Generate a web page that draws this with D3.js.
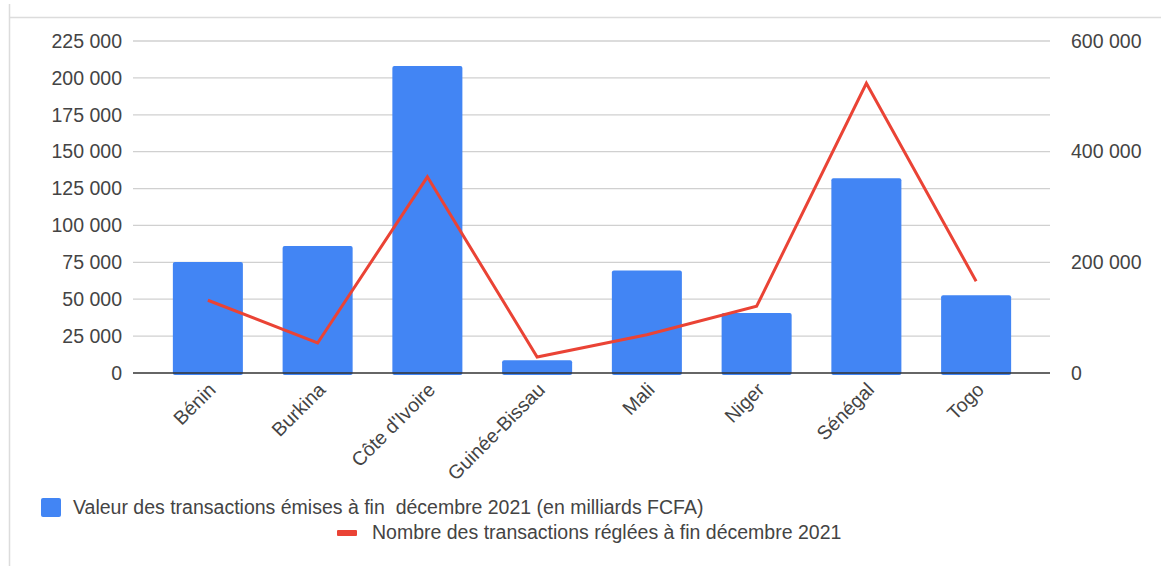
<!DOCTYPE html>
<html>
<head>
<meta charset="utf-8">
<script src="https://cdn.jsdelivr.net/npm/d3@7"></script>
<style>
  html, body { margin: 0; padding: 0; background: #fff; }
  svg { display: block; font-family: "Liberation Sans", Arial, sans-serif; }
</style>
</head>
<body>
<svg id="chart" width="1161" height="566"></svg>
<script>
// Pays de l'UEMOA
const categories = ["Bénin", "Burkina", "Côte d'Ivoire", "Guinée-Bissau", "Mali", "Niger", "Sénégal", "Togo"];
// Valeur des transactions émises (milliards FCFA) — axe gauche
const valeurs = [75300, 86000, 208000, 8600, 69500, 40700, 132000, 52700];
// Nombre des transactions réglées — axe droit
const nombres = [131500, 54300, 354500, 28900, 69000, 120600, 523500, 165900];
const leftTicks = [0, 25000, 50000, 75000, 100000, 125000, 150000, 175000, 200000, 225000];
const rightTicks = [0, 200000, 400000, 600000];
const legendLabels = [
  "Valeur des transactions émises à fin  décembre 2021 (en milliards FCFA)",
  "Nombre des transactions réglées à fin décembre 2021"
];

const FS = 19.5;
const svg = d3.select("#chart");
const plot = { left: 133, right: 1050, top: 41, bottom: 373 };
const fmt = v => d3.format(",")(v).replace(/,/g, " ");

// cadre
svg.append("line").attr("x1", 9.5).attr("x2", 9.5).attr("y1", 4).attr("y2", 566)
  .attr("stroke", "#dcdcdc").attr("stroke-width", 1.5);
svg.append("line").attr("x1", 9).attr("x2", 1161).attr("y1", 17.5).attr("y2", 17.5)
  .attr("stroke", "#dcdcdc").attr("stroke-width", 1.5);

const x = d3.scaleBand().domain(categories).range([153, 1031]).paddingInner(0.362).paddingOuter(0.181);
const yL = d3.scaleLinear().domain([0, 225000]).range([plot.bottom, plot.top]);
const yR = d3.scaleLinear().domain([0, 600000]).range([plot.bottom, plot.top]);

// grille
svg.append("g").selectAll("line").data(leftTicks.slice(1)).join("line")
  .attr("x1", plot.left).attr("x2", plot.right)
  .attr("y1", d => yL(d)).attr("y2", d => yL(d))
  .attr("stroke", "#d0d0d0").attr("stroke-width", 1.3);

// axe gauche
const axL = svg.append("g").attr("transform", `translate(${plot.left},0)`)
  .call(d3.axisLeft(yL).tickValues(leftTicks).tickFormat(fmt).tickSize(0).tickPadding(11));
axL.select(".domain").remove();
axL.selectAll("text").attr("font-size", FS).attr("fill", "#444").attr("font-family", "Liberation Sans, Arial");

// axe droit
const axR = svg.append("g").attr("transform", `translate(${plot.right},0)`)
  .call(d3.axisRight(yR).tickValues(rightTicks).tickFormat(fmt).tickSize(0).tickPadding(21));
axR.select(".domain").remove();
axR.selectAll("text").attr("font-size", FS).attr("fill", "#444").attr("font-family", "Liberation Sans, Arial");

// barres
svg.append("g").selectAll("rect").data(valeurs).join("rect")
  .attr("x", (d, i) => x(categories[i]))
  .attr("width", x.bandwidth())
  .attr("y", d => yL(d))
  .attr("height", d => yL(0) - yL(d) + 2)
  .attr("rx", 2)
  .attr("fill", "#4285f4");

// ligne de base
svg.append("line").attr("x1", plot.left).attr("x2", plot.right)
  .attr("y1", yL(0)).attr("y2", yL(0))
  .attr("stroke", "#333").attr("stroke-width", 1.5);

// courbe
const line = d3.line()
  .x((d, i) => x(categories[i]) + x.bandwidth() / 2)
  .y(d => yR(d));
svg.append("path").datum(nombres)
  .attr("d", line)
  .attr("fill", "none").attr("stroke", "#ea4335").attr("stroke-width", 3)
  .attr("stroke-linejoin", "miter");

// libellés des catégories
svg.append("g").selectAll("text").data(categories).join("text")
  .attr("transform", d => `translate(${x(d) + x.bandwidth() / 2 + 9},${391}) rotate(-45)`)
  .attr("text-anchor", "end")
  .attr("font-size", FS).attr("fill", "#444")
  .text(d => d);

// légende
const lg = svg.append("g");
lg.append("rect").attr("x", 41).attr("y", 498).attr("width", 20).attr("height", 19)
  .attr("rx", 2).attr("fill", "#4285f4");
lg.append("text").attr("x", 73).attr("y", 514).attr("font-size", FS).attr("fill", "#444")
  .attr("xml:space", "preserve").style("white-space", "pre").text(legendLabels[0]);
lg.append("rect").attr("x", 337).attr("y", 530).attr("width", 20).attr("height", 6)
  .attr("rx", 1).attr("fill", "#ea4335");
lg.append("text").attr("x", 372).attr("y", 539).attr("font-size", FS).attr("fill", "#444")
  .text(legendLabels[1]);
</script>
</body>
</html>
